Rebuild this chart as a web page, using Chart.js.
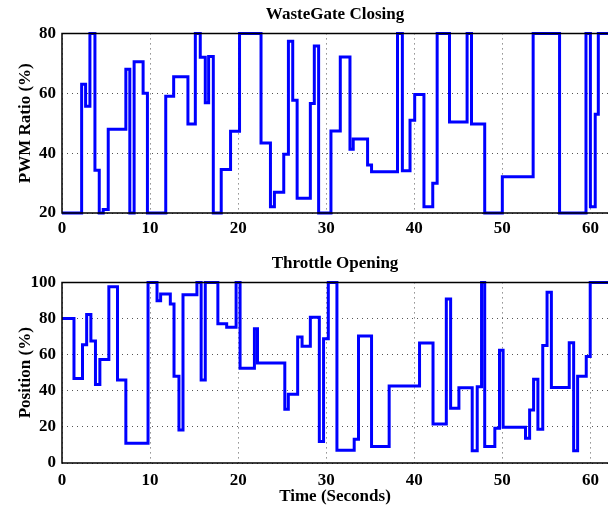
<!DOCTYPE html>
<html>
<head>
<meta charset="utf-8">
<title>WasteGate / Throttle</title>
<script src="https://cdn.jsdelivr.net/npm/chart.js@4.4.0/dist/chart.umd.min.js"></script>
<style>
  html, body { margin: 0; padding: 0; background: #fff; }
  body { width: 608px; height: 513px; position: relative; overflow: hidden; }
  .box { position: absolute; left: 0; width: 608px; }
  #topBox { top: 0; height: 240px; }
  #bottomBox { top: 244px; height: 269px; }
</style>
</head>
<body>
<div class="box" id="topBox"><canvas id="wasteChart"></canvas></div>
<div class="box" id="bottomBox"><canvas id="throttleChart"></canvas></div>
<script>
'use strict';

// time axis
let timeTicks = [0, 10, 20, 30, 40, 50, 60];
let timeEnd = 62;

// wastegate closing, pwm ratio (%) - each value holds from its time on
let wgTime = [0, 2.23, 2.68, 3.17, 3.74, 4.23, 4.68, 5.25, 7.25, 7.7,
  8.19, 9.21, 9.7, 11.78, 12.68, 14.3, 15.14, 15.7, 16.27, 16.65,
  17.18, 18.08, 19.14, 20.16, 22.6, 23.67, 24.12, 25.18, 25.71, 26.2,
  26.7, 28.2, 28.65, 29.14, 30.54, 31.6, 32.7, 33.07, 34.7, 35.15,
  38.1, 38.65, 39.52, 40.05, 41.1, 42.1, 42.6, 44, 46, 46.5,
  48, 50, 53.5, 56.5, 59.5, 60, 60.55, 60.9];
let wgPwm = [20, 63, 55.7, 80, 34.3, 20, 21.2, 48, 68, 20,
  70.5, 60, 20, 59, 65.5, 49.7, 80, 72, 56.8, 72.3,
  20, 34.5, 47.3, 80, 43.4, 22.1, 26.9, 39.6, 77.4, 57.7,
  24.9, 56.6, 75.8, 20, 47.4, 72.1, 41.3, 44.7, 36, 33.8,
  80, 34.1, 51, 59.6, 22.1, 29.9, 80, 50.4, 80, 49.7,
  20, 32.1, 80, 20, 80, 22.1, 53, 80];
let wgTicks = [20, 40, 60, 80];

// throttle opening, position (%)
let thTime = [0, 1.36, 2.33, 2.8, 3.28, 3.8, 4.3, 5.32, 6.3, 7.25,
  9.77, 10.79, 11.2, 12.3, 12.72, 13.28, 13.74, 15.32, 15.8, 16.27,
  17.7, 18.7, 19.77, 20.22, 21.85, 22.2, 25.3, 25.7, 26.76, 27.26,
  28.2, 29.22, 29.7, 30.24, 31.22, 33.18, 33.67, 35.15, 37.15, 40.6,
  42.13, 43.64, 44.13, 45.07, 46.58, 47.15, 47.64, 48, 49.15, 49.68,
  50.09, 52.63, 53.1, 53.55, 54.04, 54.59, 55.08, 55.57, 57.6, 58.1,
  58.55, 59.53, 59.98];
let thPos = [80, 46.8, 65.5, 82.2, 67.5, 43.5, 57.3, 97.6, 45.9, 11,
  100, 89.9, 93.6, 88.1, 48, 18.3, 93.2, 100, 45.9, 100,
  77.1, 75.2, 100, 52.5, 74.3, 55.4, 29.7, 38, 69.7, 64.6,
  80.7, 11.9, 68.8, 100, 7, 13.2, 70.3, 9.2, 42.6, 66.4,
  21.6, 90.8, 30.3, 41.6, 6.8, 42.2, 100, 9.2, 19.3, 62.4,
  19.8, 13.7, 29.3, 46.4, 18.7, 65.1, 94.5, 41.8, 66.6, 6.8,
  48.1, 59, 100];
let thTicks = [0, 20, 40, 60, 80, 100];

let serif = 'Liberation Serif, Times New Roman, serif';
let boldFont = { family: serif, size: 17, weight: 'bold' };

// step series: value is held until the next time, last one runs to the end
function toSteps(times, values) {
  let pts = [];
  for (let i = 0; i < times.length; i++) {
    pts.push({ x: times[i], y: values[i] });
  }
  pts.push({ x: timeEnd, y: values[values.length - 1] });
  return pts;
}

// box line on top / left / bottom of the plot (right side is cut off)
let frame = {
  id: 'frame',
  afterDatasetsDraw(chart) {
    let a = chart.chartArea;
    let ctx = chart.ctx;
    ctx.save();
    ctx.strokeStyle = '#000';
    ctx.lineWidth = 1.5;
    ctx.beginPath();
    ctx.moveTo(a.right, a.top);
    ctx.lineTo(a.left, a.top);
    ctx.lineTo(a.left, a.bottom);
    ctx.lineTo(a.right, a.bottom);
    ctx.stroke();
    ctx.restore();
  }
};

function makeChart(canvasId, opts) {
  let ctx = document.getElementById(canvasId).getContext('2d');
  return new Chart(ctx, {
    type: 'line',
    data: {
      datasets: [{
        data: toSteps(opts.times, opts.values),
        stepped: true,
        borderColor: '#0000ff',
        borderWidth: 3,
        pointRadius: 0,
        fill: false,
        clip: 4
      }]
    },
    options: {
      responsive: true,
      maintainAspectRatio: false,
      animation: false,
      layout: { padding: 0 },
      plugins: {
        legend: { display: false },
        tooltip: { enabled: false },
        title: {
          display: true,
          text: opts.title,
          fullSize: false,
          color: '#000',
          font: boldFont,
          padding: opts.titlePad
        }
      },
      scales: {
        x: {
          type: 'linear',
          min: 0,
          max: timeEnd,
          afterBuildTicks(s) { s.ticks = timeTicks.map(v => ({ value: v })); },
          afterFit(s) { s.height = opts.xHeight; },
          ticks: { color: '#000', font: boldFont, padding: opts.xTickPad, maxRotation: 0 },
          grid: { color: '#555', lineWidth: 1, drawTicks: false },
          border: { display: false, dash: [1, 4] },
          title: {
            display: !!opts.xTitle,
            text: opts.xTitle || '',
            color: '#000',
            font: boldFont,
            padding: { top: 0, bottom: 6 }
          }
        },
        y: {
          type: 'linear',
          min: opts.yTicks[0],
          max: opts.yTicks[opts.yTicks.length - 1],
          afterBuildTicks(s) { s.ticks = opts.yTicks.map(v => ({ value: v })); },
          afterFit(s) { s.width = 62; },
          ticks: { color: '#000', font: boldFont, padding: 6 },
          grid: { color: '#555', lineWidth: 1, drawTicks: false },
          border: { display: false, dash: [1, 4] },
          title: {
            display: true,
            text: opts.yTitle,
            color: '#000',
            font: boldFont,
            padding: { top: 15, bottom: 0 }
          }
        }
      }
    },
    plugins: [frame]
  });
}

makeChart('wasteChart', {
  times: wgTime,
  values: wgPwm,
  yTicks: wgTicks,
  title: 'WasteGate Closing',
  titlePad: { top: 4, bottom: 9 },
  yTitle: 'PWM Ratio (%)',
  xHeight: 27,
  xTickPad: 5
});

makeChart('throttleChart', {
  times: thTime,
  values: thPos,
  yTicks: thTicks,
  title: 'Throttle Opening',
  titlePad: { top: 9, bottom: 9 },
  yTitle: 'Position (%)',
  xTitle: 'Time (Seconds)',
  xHeight: 50,
  xTickPad: 7
});
</script>
</body>
</html>
